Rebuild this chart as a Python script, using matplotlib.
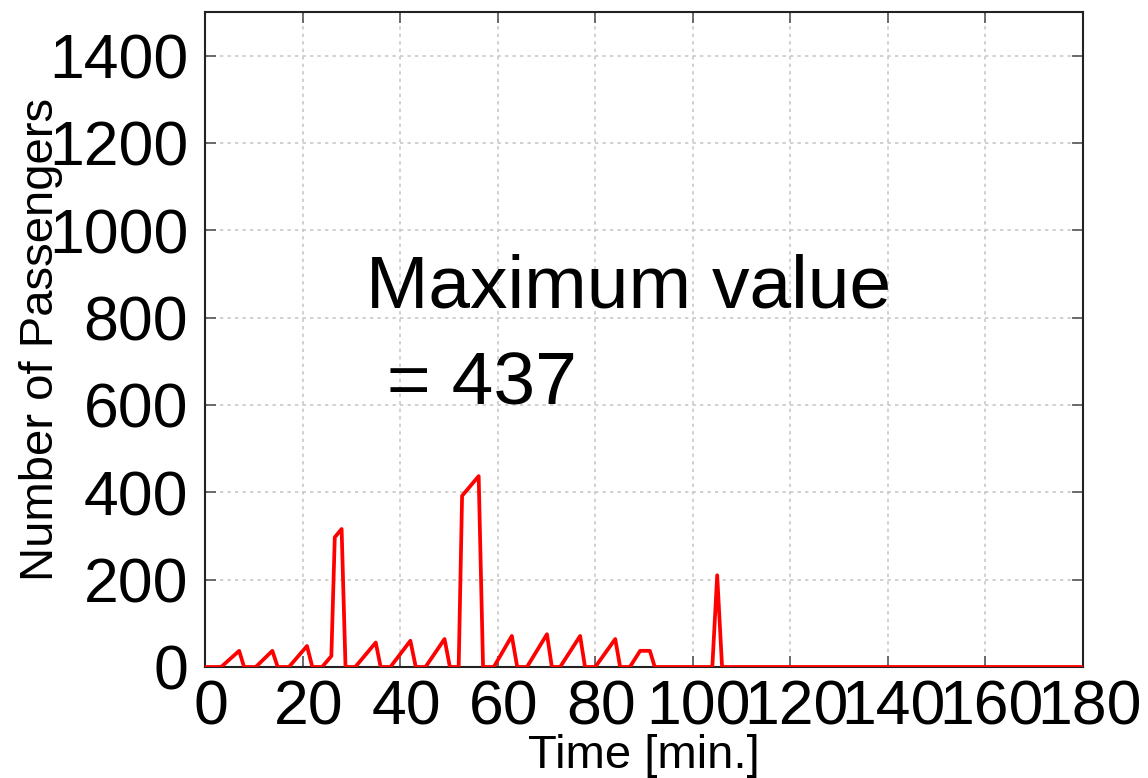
import matplotlib.pyplot as plt
from matplotlib.transforms import ScaledTranslation

# passengers waiting over time (read at the break points of the curve)
time_min = [0, 3.3, 7.0, 8.0, 10.4, 13.8, 14.9, 17.2, 20.9, 22.0, 24.0, 25.9,
            26.6, 28.0, 28.8, 30.8, 35.0, 36.0, 38.0, 42.1, 43.2, 45.2, 49.1,
            50.2, 52.0, 52.7, 56.1, 57.0, 59.2, 62.9, 64.0, 66.0, 70.1, 71.1,
            72.8, 76.9, 77.9, 80.0, 84.1, 85.1, 87.1, 89.2, 91.2, 92.2, 104.0,
            105.0, 106.0, 180]
passengers = [0, 0, 37, 0, 0, 37, 0, 0, 48, 0, 0, 25,
              297, 316, 0, 0, 56, 0, 0, 60, 0, 0, 64,
              0, 0, 392, 437, 0, 0, 71, 0, 0, 75, 0,
              0, 71, 0, 0, 64, 0, 0, 37, 37, 0, 0,
              210, 0, 0]

x_ticks = list(range(0, 181, 20))
y_ticks = list(range(0, 1401, 200))

plt.rcParams["font.family"] = ["Liberation Sans", "DejaVu Sans"]

fig = plt.figure(figsize=(11.48, 7.78), dpi=100)
ax = fig.add_axes([0.1786, 0.1427, 0.9434 - 0.1786, 0.9846 - 0.1427])

ax.plot(time_min, passengers, color="#ff0000", linewidth=2.7, zorder=3)

ax.set_xlim(0, 180)
ax.set_ylim(0, 1500)
ax.set_xticks(x_ticks)
ax.set_yticks(y_ticks)
ax.grid(True, color="#c8c8c8", linestyle=(0, (2, 2.5)), linewidth=1.2)

ax.tick_params(direction="in", length=8, width=1.2, color="#555555",
               top=True, right=True, labelsize=45)
ax.tick_params(axis="x", pad=8)
ax.tick_params(axis="y", pad=12)
# x tick labels sit a little right of their ticks
shift = ScaledTranslation(6 / 100, 0, fig.dpi_scale_trans)
for lbl in ax.get_xticklabels():
    lbl.set_transform(lbl.get_transform() + shift)

for spine in ax.spines.values():
    spine.set_linewidth(1.5)
    spine.set_color("#222222")

ax.set_xlabel("Time [min.]", fontsize=34, labelpad=-2)
ax.set_ylabel("Number of Passengers", fontsize=34, labelpad=-10)

max_val = max(passengers)
ax.text(0.183, 0.40, f"Maximum value\n = {max_val}", transform=ax.transAxes,
        fontsize=54, linespacing=1.52, va="baseline")

fig.savefig("out.png", dpi=100)
